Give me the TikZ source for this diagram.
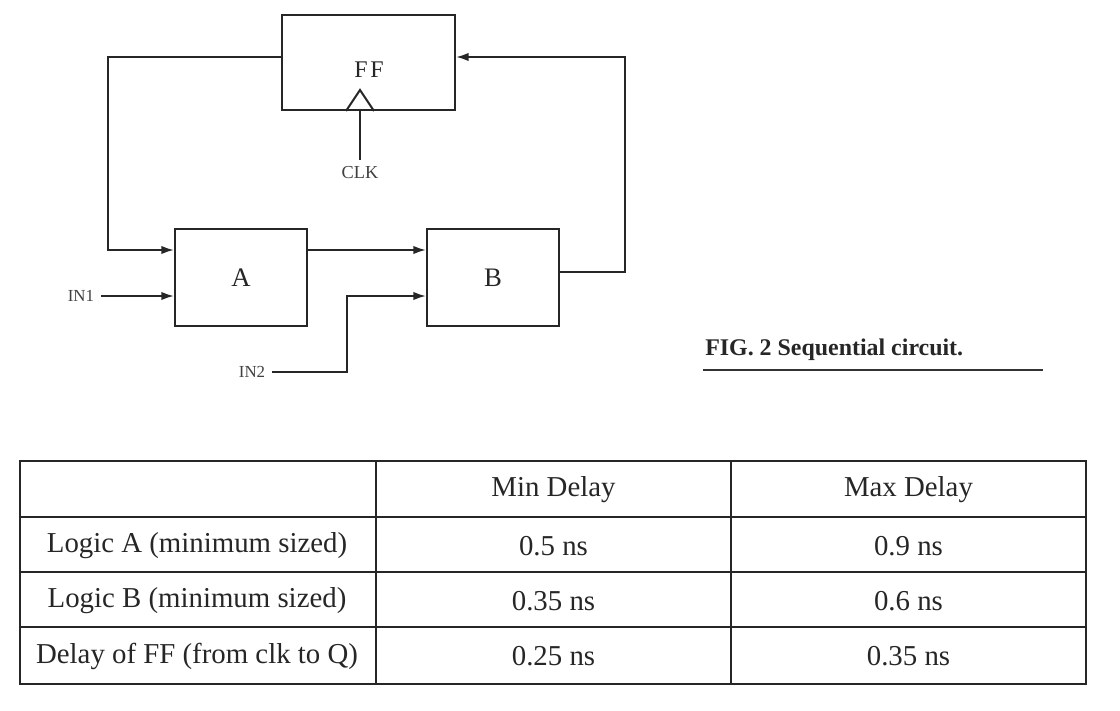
\documentclass[tikz,border=0pt]{standalone}
\usepackage{fontspec}
\setmainfont{Liberation Serif}
\usetikzlibrary{positioning,arrows.meta}

\begin{document}
\begin{tikzpicture}[x=0.025cm,y=-0.025cm,
  wire/.style={line width=1.4pt,black!85},
  sig/.style={wire,-{Latex[length=9pt,width=6pt]}},
  blk/.style={draw,line width=1.4pt,black!85,inner sep=0pt},
  pin/.style={inner sep=5pt,font=\fontsize{12}{12}\selectfont,black!75},
  cell/.style={inner sep=0pt,font=\fontsize{20.5}{21}\selectfont,black!85}]
\useasboundingbox (0,0) rectangle (1120,711);

% the circuit
\node[blk,minimum width=4.325cm,minimum height=2.375cm] (ff) at (368.5,62.5) {};
\node[font=\fontsize{17}{17}\selectfont,black!85] (fflbl) at (369,70) {F\kern2pt F};
\node[blk,minimum width=3.3cm,minimum height=2.425cm,
      font=\fontsize{19}{19}\selectfont] (blkA) at (241,277.5) {A};
\node[blk,minimum width=3.3cm,minimum height=2.425cm,
      font=\fontsize{19}{19}\selectfont] (blkB) at (493,277.5) {B};

\node[pin] (in1) at (81,296) {IN1};
\node[pin] (in2) at (252,372) {IN2};
\node[pin,font=\fontsize{13}{13}\selectfont] (clk) at (360,173) {CLK};

\coordinate (fbl) at (108,57);
\coordinate (fbr) at (625,272);
\coordinate (jog) at (347,296);
\coordinate (ck) at (ff.south -| 360,0);

\draw[sig] (ff.west |- fbl) -- (fbl) |- (blkA.west |- 0,250);
\draw[sig] (in1) -- (blkA.west |- in1);
\draw[sig] (blkA.east |- 0,250) -- (blkB.west |- 0,250);
\draw[sig] (in2) -| (jog) -- (blkB.west |- jog);
\draw[sig] (blkB.east |- fbr) -- (fbr) |- (ff.east |- fbl);
\draw[wire] (clk) -- (ck);
\draw[wire] (ck) ++(-14,0) -- ++(14,-21) -- ++(14,21);

% caption
\node[anchor=base west,inner sep=0pt,black!85,
      font=\bfseries\fontsize{17}{17}\selectfont] (cap) at (705,355) {FIG. 2 Sequential circuit.};
\draw[line width=0.9pt,black!80] (703,370) -- (1043,370);

% the table
\draw[wire] (20,461) rectangle (1086,684);
\draw[wire] (20,517) -- (1086,517);
\draw[wire] (20,572) -- (1086,572);
\draw[wire] (20,627) -- (1086,627);
\draw[wire] (376,461) -- (376,684);
\draw[wire] (731,461) -- (731,684);

\node[cell] (minhd) at (553.5,490) {Min Delay};
\node[cell] (maxhd) at (908.5,490) {Max Delay};
\node[cell] (rowA) at (197,546) {Logic A (minimum sized)};
\node[cell] (minA) at (553.5,546) {0.5 ns};
\node[cell] (maxA) at (908.5,546) {0.9 ns};
\node[cell] (rowB) at (197,601) {Logic B (minimum sized)};
\node[cell] (minB) at (553.5,601) {0.35 ns};
\node[cell] (maxB) at (908.5,601) {0.6 ns};
\node[cell] (rowF) at (197,656) {Delay of FF (from clk to Q)};
\node[cell] (minF) at (553.5,656) {0.25 ns};
\node[cell] (maxF) at (908.5,656) {0.35 ns};
\end{tikzpicture}
\end{document}
